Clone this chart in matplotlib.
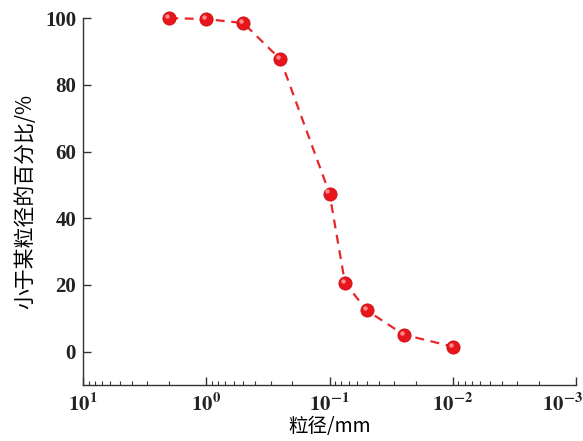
import numpy as np
from matplotlib import pyplot as plt
import matplotlib.transforms as mtransforms

plt.rcParams['font.family'] = ['Liberation Serif', 'Noto Sans CJK SC']
plt.rcParams['mathtext.fontset'] = 'stix'
plt.rcParams['font.weight'] = 'bold'

# particle size (mm) and cumulative passing percentage
size_mm = [2, 1, 0.5, 0.25, 0.1, 0.075, 0.05, 0.025, 0.01]
passing = [100, 99.7, 98.5, 87.6, 47.4, 20.7, 12.4, 5.1, 1.5]

fig = plt.figure(figsize=(5.83, 4.41), dpi=100)
ax = fig.add_axes([0.1424, 0.127, 0.8456, 0.832])

ax.plot(size_mm, passing, color='#e8262a', linestyle=(0, (4, 3)), lw=1.6,
        clip_on=False, zorder=2)
# sphere-like markers: red ball with a small light highlight
ax.plot(size_mm, passing, 'o', color='#e8151b', markersize=9.5,
        markeredgecolor='#c81014', markeredgewidth=0.6, clip_on=False, zorder=3)
ax.plot(size_mm, passing, 'o', color='#ff8a8a', markersize=3.2,
        markeredgewidth=0, clip_on=False, zorder=4,
        transform=ax.transData + mtransforms.ScaledTranslation(-1.5/72, 1.5/72, fig.dpi_scale_trans))

ax.set_xscale('log')
ax.set_xlim(10, 1e-3)
ax.set_ylim(-10, 100)
ax.set_yticks([0, 20, 40, 60, 80, 100])
ax.set_xticks([10, 1, 0.1, 0.01, 0.001])
ax.set_xticklabels([r'$10^{1}$', r'$10^{0}$', r'$10^{-1}$', r'$10^{-2}$', r'$10^{-3}$'])

for s in ['top', 'right']:
    ax.spines[s].set_visible(False)
for s in ['left', 'bottom']:
    ax.spines[s].set_color('#333333')
    ax.spines[s].set_linewidth(1.0)

ax.tick_params(which='major', direction='in', length=6, width=1, colors='#333333',
               labelcolor='#222222')
ax.tick_params(axis='y', labelsize=15, pad=5)
ax.tick_params(axis='x', labelsize=15, pad=6)
ax.tick_params(which='minor', direction='in', length=3, width=0.8, colors='#333333')

# last x label sits inside the figure edge
last = ax.get_xticklabels()[-1]
last.set_horizontalalignment('right')
last.set_transform(last.get_transform() + mtransforms.ScaledTranslation(7/100, 0, fig.dpi_scale_trans))

ax.set_xlabel('粒径/mm', fontsize=14, family=['Noto Sans CJK SC', 'DejaVu Sans'], labelpad=0)
ax.set_ylabel('小于某粒径的百分比/%', fontsize=15, family=['Noto Sans CJK SC', 'DejaVu Sans'], labelpad=6)

fig.savefig('out.png', dpi=100)
